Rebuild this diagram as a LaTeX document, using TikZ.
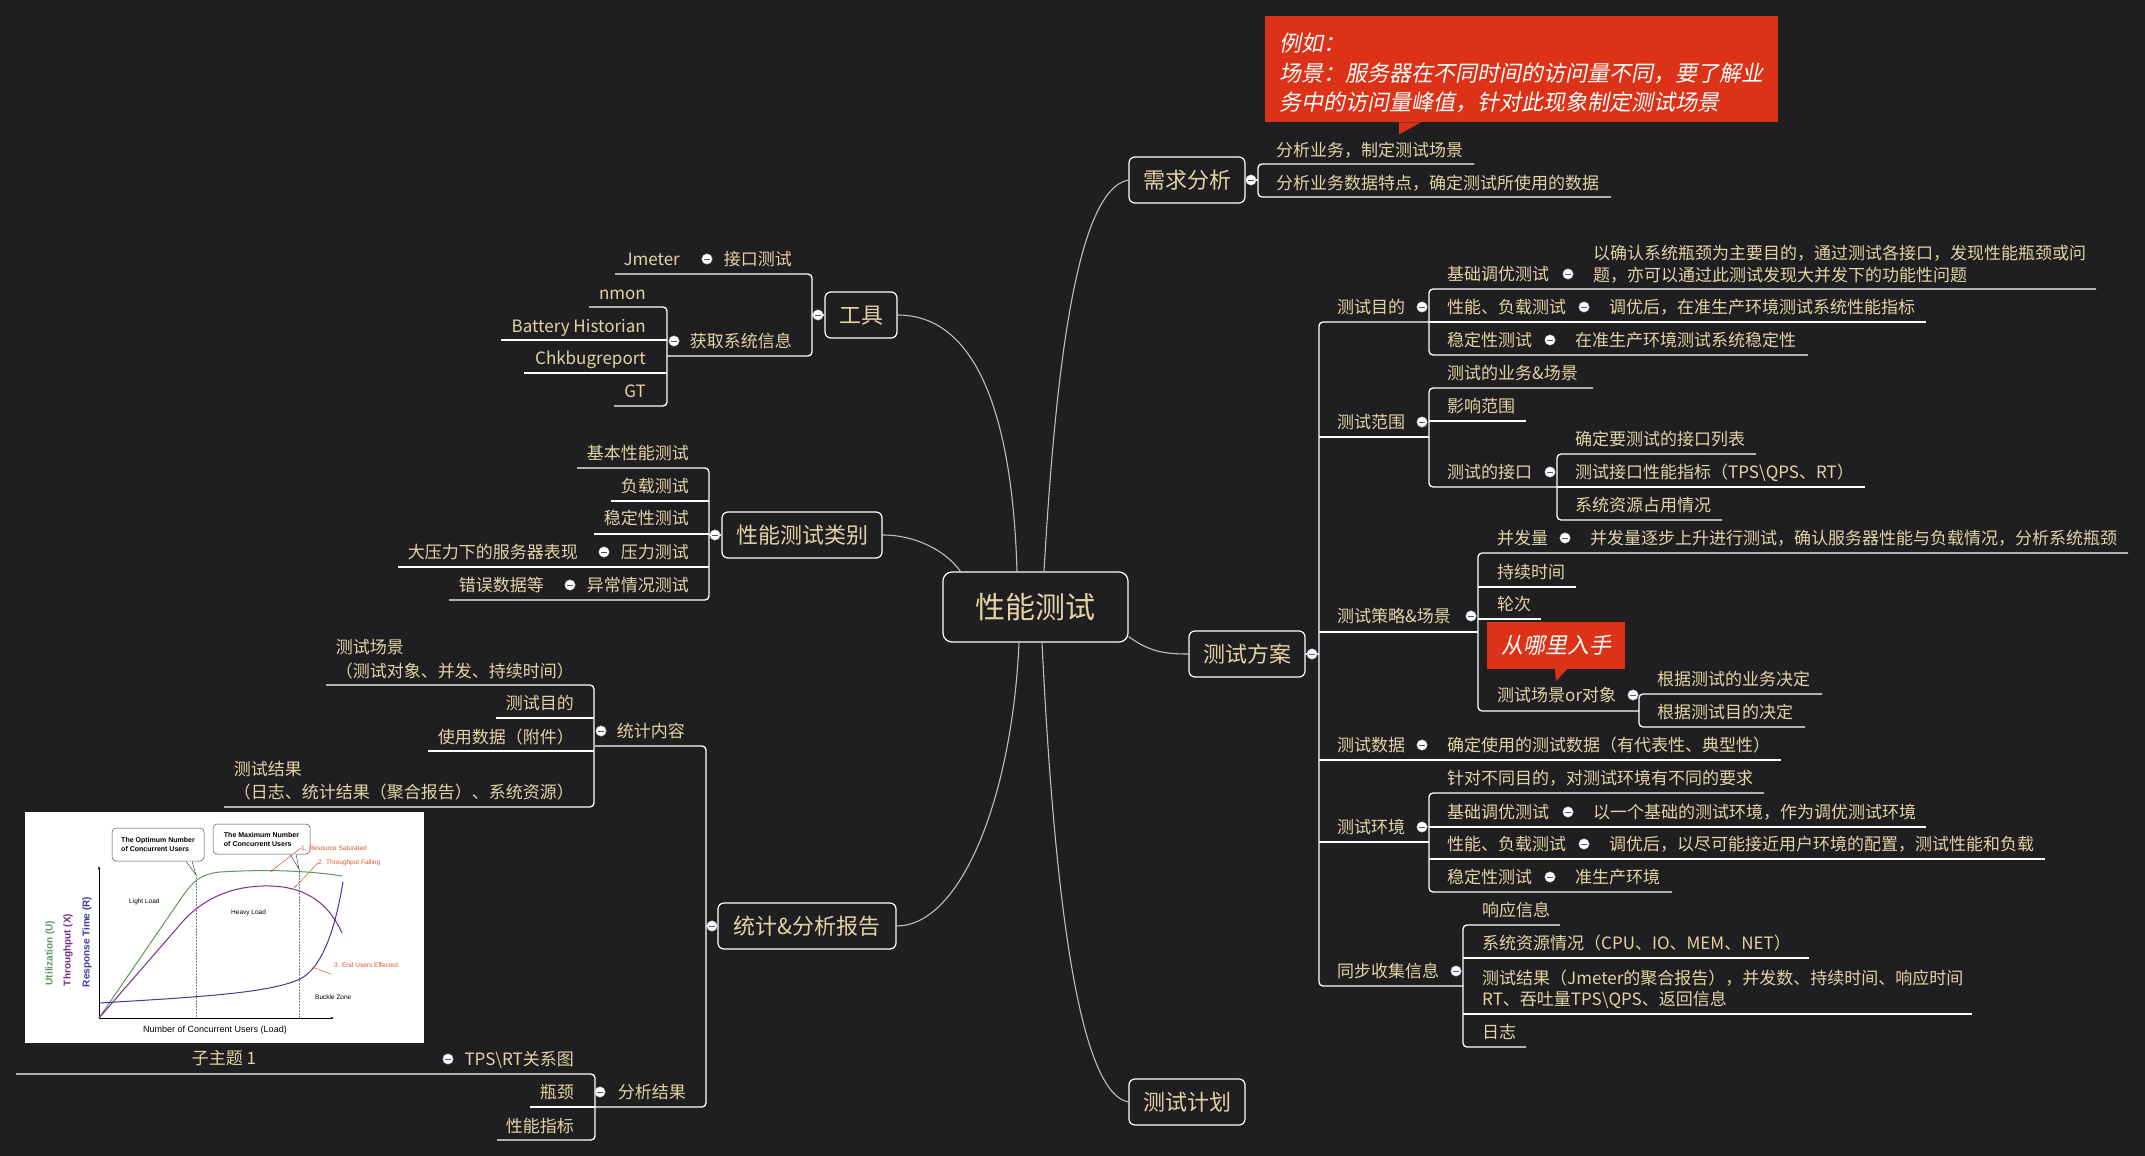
\documentclass[tikz,border=0pt]{standalone}
\usepackage{fontspec}
\setmainfont{Noto Sans CJK SC}
\newfontfamily\slantcjk[FakeSlant=0.2]{Noto Sans CJK SC}
\newfontfamily\chartfont{Liberation Sans}
\usetikzlibrary{arrows.meta}
\definecolor{bgdark}{HTML}{1F1F21}
\definecolor{topictext}{HTML}{E3D3A5}
\definecolor{calloutred}{HTML}{DC3318}
\definecolor{linegray}{HTML}{BEBEBE}
\definecolor{utilgreen}{HTML}{5C9A5C}
\definecolor{thrpurple}{HTML}{7E2C8E}
\definecolor{respblue}{HTML}{3B3B9C}
\definecolor{chartred}{HTML}{D9572B}
\newcommand\fork[5]{\draw[uline] (#3,#2) -- (#1,#2) -- (#1,#4) -- (#5,#4);}
\newcommand\topicline[3]{\draw[uline] (#1,#3) -- (#2,#3);}
\tikzset{
  topic/.style={draw=white,line width=1.2pt,rounded corners=6pt,text=topictext,
    font=\fontsize{22}{26}\selectfont,text height=18.3pt,text depth=1.5pt,minimum height=46pt,inner sep=0pt},
  lbl/.style={inner sep=0pt,text=topictext,font=\fontsize{17}{21}\selectfont,
    text height=14.1pt,text depth=1.2pt,anchor=west},
  lbleft/.style={lbl,anchor=east},
  mlbl/.style={inner sep=0pt,text=topictext,align=left},
  knob/.style={circle,fill=white,draw=gray!60,line width=0.4pt,minimum size=10.5pt,inner sep=0pt,
    path picture={\draw[gray!60!blue,line width=0.9pt] ([xshift=-2.6pt]path picture bounding box.center)
      -- ([xshift=2.6pt]path picture bounding box.center);}},
  uline/.style={draw=white,line width=1.3pt,rounded corners=4pt},
  link/.style={draw=linegray,line width=1.1pt},
  callout/.style={fill=calloutred,text=white,inner sep=0pt},
  chartlbl/.style={font=\chartfont\fontsize{6.5}{7.5}\selectfont,inner sep=0pt,anchor=west},
  bubble/.style={draw=black!70,fill=white,rounded corners=4pt,line width=0.5pt,inner sep=1pt,align=left,
    font=\chartfont\bfseries\fontsize{7}{9}\selectfont},
  ylab/.style={rotate=90,inner sep=0pt,font=\chartfont\bfseries\fontsize{10}{11}\selectfont}
}
\begin{document}
\begin{tikzpicture}[x=1pt,y=-1pt]
\fill[bgdark] (0,0) rectangle (2145,1156);
\useasboundingbox (0,0) rectangle (2145,1156);

\node[topic,minimum width=185pt,minimum height=70pt,rounded corners=9pt,font=\fontsize{30}{34}\selectfont,text height=24.9pt,text depth=2.1pt] (root) at (1035.5,607) {性能测试};
\node[topic,minimum width=116pt] (xqfx) at (1187,180) {需求分析};
\node[topic,minimum width=116pt] (csfa) at (1247,654) {测试方案};
\node[topic,minimum width=116pt] (cshj) at (1187,1102) {测试计划};
\node[topic,minimum width=72pt] (tools) at (861,315) {工具};
\node[topic,minimum width=160pt] (kinds) at (802,535) {性能测试类别};
\node[topic,minimum width=178pt] (report) at (807,926) {统计\&分析报告};

\draw[link] ([xshift=8.5pt]root.north) .. controls (1055,380) and (1075,190) .. (xqfx.west);
\draw[link] ([xshift=6.5pt]root.south) .. controls (1053,867) and (1075,1092) .. (cshj.west);
\draw[link] ([yshift=6pt]root.south east) .. controls (1150,652) and (1165,654) .. (csfa.west);
\draw[link] ([xshift=-18.5pt]root.north) .. controls (1012,400) and (970,315) .. (tools.east);
\draw[link] ([xshift=-75pt]root.north) .. controls (945,550) and (915,535) .. (kinds.east);
\draw[link] ([xshift=-16.5pt]root.south) .. controls (1012,800) and (960,926) .. (report.east);

\node[callout,minimum width=513pt,minimum height=106pt,anchor=north west] (note1) at (1265,16) {};
\fill[calloutred] ([xshift=134pt]note1.south west) -- ++(22,0) -- ++(-22,12) -- cycle;
\node[mlbl,text=white,anchor=north west,font=\slantcjk\fontsize{22}{29.5}\selectfont] (note1txt) at (1279,33) {例如：\\场景：服务器在不同时间的访问量不同，要了解业\\务中的访问量峰值，针对此现象制定测试场景};

\draw[uline] (xqfx.east) -- (1258,180);
\fork{1258}{164}{1474}{197}{1611}
\node[lbl] (xq1) at (1276,150) {分析业务，制定测试场景};
\node[lbl] (xq2) at (1276,183) {分析业务数据特点，确定测试所使用的数据};

\draw[uline] (csfa.east) -- (1319,654);
\draw[uline] (1429,322) -- (1319,322) -- (1319,986) -- (1463,986);
\topicline{1319}{1429}{437}
\topicline{1319}{1478}{632}
\topicline{1319}{1781}{760}
\topicline{1319}{1429}{842}

\fork{1429}{289}{2096}{355}{1808}
\topicline{1429}{1926}{322}
\node[lbl] (mudi) at (1337,307) {测试目的};
\node[lbl] (md1) at (1447,274) {基础调优测试};
\node[mlbl,anchor=north west,font=\fontsize{17}{22}\selectfont] (md1a) at (1593,244.4) {以确认系统瓶颈为主要目的，通过测试各接口，发现性能瓶颈或问\\题，亦可以通过此测试发现大并发下的功能性问题};
\node[lbl] (md2) at (1447,307) {性能、负载测试};
\node[lbl] (md2a) at (1609,307) {调优后，在准生产环境测试系统性能指标};
\node[lbl] (md3) at (1447,340) {稳定性测试};
\node[lbl] (md3a) at (1575,340) {在准生产环境测试系统稳定性};

\fork{1429}{388}{1593}{487}{1557}
\topicline{1429}{1526}{421}
\node[lbl] (fanwei) at (1337,422) {测试范围};
\node[lbl] (fw1) at (1447,373) {测试的业务\&场景};
\node[lbl] (fw2) at (1447,406) {影响范围};
\node[lbl] (fw3) at (1447,472) {测试的接口};
\fork{1557}{454}{1756}{520}{1722}
\topicline{1557}{1865}{487}
\node[lbl] (jk1) at (1575,439) {确定要测试的接口列表};
\node[lbl] (jk2) at (1575,472) {测试接口性能指标（TPS\textbackslash QPS、RT）};
\node[lbl] (jk3) at (1575,505) {系统资源占用情况};

\fork{1478}{553}{2128}{711}{1639}
\topicline{1478}{1576}{587}
\topicline{1478}{1541}{619}
\node[lbl] (celue) at (1337,616) {测试策略\&场景};
\node[lbl] (cl1) at (1497,538) {并发量};
\node[lbl] (cl1a) at (1590,538) {并发量逐步上升进行测试，确认服务器性能与负载情况，分析系统瓶颈};
\node[lbl] (cl2) at (1497,572) {持续时间};
\node[lbl] (cl3) at (1497,604) {轮次};
\node[lbl] (cl4) at (1497,695) {测试场景or对象};
\node[callout,minimum width=138pt,minimum height=47pt,font=\slantcjk\fontsize{22}{26}\selectfont] (where) at (1556,645.5) {从哪里入手};
\fill[calloutred] ([xshift=-1pt]where.south) -- ++(12,0) -- ++(-11,12) -- cycle;
\fork{1639}{694}{1822}{727}{1805}
\node[lbl] (cl4a) at (1657,679) {根据测试的业务决定};
\node[lbl] (cl4b) at (1657,712) {根据测试目的决定};

\node[lbl] (shuju) at (1337,745) {测试数据};
\node[lbl] (sj1) at (1447,745) {确定使用的测试数据（有代表性、典型性）};

\fork{1429}{793}{1764}{892}{1672}
\topicline{1429}{1926}{827}
\topicline{1429}{2045}{859}
\node[lbl] (huanjing) at (1337,827) {测试环境};
\node[lbl] (hj1) at (1447,778) {针对不同目的，对测试环境有不同的要求};
\node[lbl] (hj2) at (1447,812) {基础调优测试};
\node[lbl] (hj2a) at (1593,812) {以一个基础的测试环境，作为调优测试环境};
\node[lbl] (hj3) at (1447,844) {性能、负载测试};
\node[lbl] (hj3a) at (1609,844) {调优后，以尽可能接近用户环境的配置，测试性能和负载};
\node[lbl] (hj4) at (1447,877) {稳定性测试};
\node[lbl] (hj4a) at (1575,877) {准生产环境};

\fork{1463}{925}{1560}{1047}{1526}
\topicline{1463}{1809}{958}
\topicline{1463}{1972}{1014}
\node[lbl] (tongbu) at (1337,971) {同步收集信息};
\node[lbl] (tb1) at (1482,910) {响应信息};
\node[lbl] (tb2) at (1482,943) {系统资源情况（CPU、IO、MEM、NET）};
\node[mlbl,anchor=north west,font=\fontsize{17}{21.7}\selectfont] (tb3) at (1482,969.4) {测试结果（Jmeter的聚合报告），并发数、持续时间、响应时间\\RT、吞吐量TPS\textbackslash QPS、返回信息};
\node[lbl] (tb4) at (1482,1032) {日志};

\draw[uline] (tools.west) -- (812,315);
\fork{812}{274}{615}{356}{667}
\node[lbleft] (tl1) at (792,259) {接口测试};
\node[lbleft] (tl1a) at (680,259) {Jmeter};
\node[lbleft] (tl2) at (792,341) {获取系统信息};
\fork{667}{307}{589}{406}{614}
\topicline{667}{501}{340}
\topicline{667}{524}{373}
\node[lbleft] (tl2a) at (646,293) {nmon};
\node[lbleft] (tl2b) at (646,326) {Battery Historian};
\node[lbleft] (tl2c) at (646,358) {Chkbugreport};
\node[lbleft] (tl2d) at (646,391) {GT};

\draw[uline] (kinds.west) -- (709,535);
\fork{709}{468}{577}{600}{449}
\topicline{709}{611}{501}
\topicline{709}{594}{534}
\topicline{709}{398}{567}
\node[lbleft] (kd1) at (689,453) {基本性能测试};
\node[lbleft] (kd2) at (689,486) {负载测试};
\node[lbleft] (kd3) at (689,518) {稳定性测试};
\node[lbleft] (kd4) at (689,552) {压力测试};
\node[lbleft] (kd4a) at (578,552) {大压力下的服务器表现};
\node[lbleft] (kd5) at (689,585) {异常情况测试};
\node[lbleft] (kd5a) at (544,585) {错误数据等};

\draw[uline] (report.west) -- (706,926);
\fork{706}{746}{595}{1107}{595}
\node[lbleft] (tongji) at (685,731) {统计内容};
\fork{594}{685}{326}{807}{224}
\topicline{594}{496}{718}
\topicline{594}{428}{751}
\node[mlbl,anchor=north east,font=\fontsize{17}{24}\selectfont] (tj1) at (574,639.4) {测试场景\\（测试对象、并发、持续时间）};
\node[lbleft] (tj2) at (574,703) {测试目的};
\node[lbleft] (tj3) at (574,737) {使用数据（附件）};
\node[mlbl,anchor=north east,font=\fontsize{17}{23}\selectfont] (tj4) at (574,761.4) {测试结果\\（日志、统计结果（聚合报告）、系统资源）};
\node[lbleft] (fenxi) at (686,1092) {分析结果};
\fork{595}{1074}{16}{1140}{497}
\topicline{595}{530}{1107}
\node[lbleft] (fx1) at (574,1059) {TPS\textbackslash RT关系图};
\node[lbleft] (fx2) at (574,1092) {瓶颈};
\node[lbleft] (fx3) at (574,1126) {性能指标};
\node[lbl,anchor=center] (subtopic) at (224,1058) {子主题 1};

\node[fill=white,minimum width=399pt,minimum height=231pt,inner sep=0pt,anchor=north west] (chart) at (25,812) {};
\draw[gray,densely dotted,line width=0.5pt] (196,875) -- (196,1018);
\draw[gray,densely dotted,line width=0.5pt] (299,870) -- (299,1018);
\draw[line width=0.6pt,-{Latex[length=3pt,width=2.4pt]}] (99,1018) -- (99,866);
\draw[line width=0.6pt,-{Latex[length=3pt,width=2.4pt]}] (99,1018) -- (334,1018);
\draw[utilgreen,line width=1pt] (99,1018) -- (180,900) .. controls (192,882) and (200,874) .. (220,872) .. controls (270,869) and (310,871) .. (342,876);
\draw[thrpurple,line width=1pt] (99,1018) -- (178,927) .. controls (200,900) and (228,887) .. (263,886) .. controls (295,885) and (325,895) .. (342,933);
\draw[respblue,line width=1pt] (99,1003) .. controls (200,997) and (270,993) .. (300,979) .. controls (322,968) and (335,930) .. (343,882);
\node[bubble,minimum width=92pt,minimum height=33pt] (optimum) at (158,844.5) {The Optimum Number\\of Concurrent Users};
\draw[black!70,line width=0.5pt,fill=white] ([xshift=28pt]optimum.south) -- (196,875) -- ([xshift=34pt]optimum.south);
\node[bubble,minimum width=97pt,minimum height=30pt] (maximum) at (261.5,839) {The Maximum Number\\of Concurrent Users};
\draw[black!70,line width=0.5pt,fill=white] ([xshift=28.5pt]maximum.south) -- (299,869) -- ([xshift=34.5pt]maximum.south);
\node[chartlbl,text=chartred] (saturated) at (301,848) {1. Resource Saturated};
\node[chartlbl,text=chartred] (falling) at (318,863) {2. Throughput Falling};
\node[chartlbl,text=chartred] (effected) at (334,965) {3. End Users Effected};
\draw[chartred,line width=0.5pt,-{Latex[length=2.5pt,width=2pt]}] (saturated.west) -- (270,872);
\draw[chartred,line width=0.5pt,-{Latex[length=2.5pt,width=2pt]}] (falling.west) -- (294,888);
\draw[chartred,line width=0.5pt,-{Latex[length=2.5pt,width=2pt]}] ([xshift=-3pt,yshift=-9pt]effected.west) -- (312,967);
\node[chartlbl] (light) at (129,902) {Light Load};
\node[chartlbl] (heavy) at (231,913) {Heavy Load};
\node[chartlbl] (buckle) at (315,997) {Buckle Zone};
\node[inner sep=0pt,font=\chartfont\fontsize{9}{10}\selectfont] (xlab) at (215,1030) {Number of Concurrent Users (Load)};
\node[ylab,text=utilgreen] (ylab1) at (50,953) {Utilization (U)};
\node[ylab,text=thrpurple] (ylab2) at (68,950) {Throughput (X)};
\node[ylab,text=respblue] (ylab3) at (87,942) {Response Time (R)};

\node[knob] (k-xqfx) at (1251,180) {};
\node[knob] (k-csfa) at (1312,654) {};
\node[knob] (k-mudi) at (1422,307) {};
\node[knob] (k-md1) at (1568,274) {};
\node[knob] (k-md2) at (1584,307) {};
\node[knob] (k-md3) at (1550,340) {};
\node[knob] (k-fanwei) at (1422,422) {};
\node[knob] (k-fw3) at (1550,472) {};
\node[knob] (k-celue) at (1471,616) {};
\node[knob] (k-cl1) at (1565,538) {};
\node[knob] (k-cl4) at (1633,695) {};
\node[knob] (k-shuju) at (1422,745) {};
\node[knob] (k-huanjing) at (1422,827) {};
\node[knob] (k-hj2) at (1568,812) {};
\node[knob] (k-hj3) at (1584,844) {};
\node[knob] (k-hj4) at (1550,877) {};
\node[knob] (k-tongbu) at (1456,971) {};
\node[knob] (k-tools) at (818,315) {};
\node[knob] (k-tl1) at (707,259) {};
\node[knob] (k-tl2) at (674,341) {};
\node[knob] (k-kinds) at (715,535) {};
\node[knob] (k-kd4) at (604,552) {};
\node[knob] (k-kd5) at (570,585) {};
\node[knob] (k-report) at (712,926) {};
\node[knob] (k-tongji) at (601,731) {};
\node[knob] (k-fenxi) at (600,1092) {};
\node[knob] (k-fx1) at (448,1059) {};
\end{tikzpicture}
\end{document}
